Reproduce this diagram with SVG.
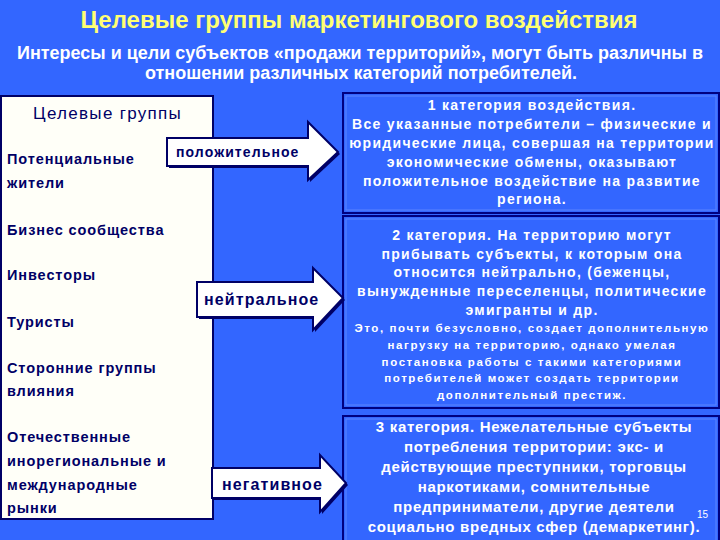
<svg xmlns="http://www.w3.org/2000/svg" width="720" height="540" viewBox="0 0 720 540">
<style>
.bg{fill:#3366ff}
.title{font-family:"Liberation Sans",Arial,sans-serif;font-size:23px;font-weight:bold;fill:#ffff73;text-anchor:middle}
.sub{font-family:"Liberation Sans",Arial,sans-serif;font-size:18px;font-weight:bold;fill:#ffffff;text-anchor:middle}
.lbox{fill:#fffff8;stroke:#000066;stroke-width:2}
.lt{font-family:"Liberation Sans",Arial,sans-serif;font-size:14.5px;font-weight:bold;fill:#000066;letter-spacing:0.9px}
.lh{font-family:"Liberation Sans",Arial,sans-serif;font-size:17px;fill:#000066;letter-spacing:1.3px}
.rbox{fill:#3366ff;stroke:#000080;stroke-width:2}
.rin{fill:none;stroke:#5c85ff;stroke-width:1}
.rt{font-family:"Liberation Sans",Arial,sans-serif;font-size:14px;font-weight:bold;fill:#ffffff;text-anchor:middle;letter-spacing:1.3px}
.rs{font-family:"Liberation Sans",Arial,sans-serif;font-size:11.5px;font-weight:bold;fill:#ffffff;text-anchor:middle;letter-spacing:1.6px}
.r3{font-family:"Liberation Sans",Arial,sans-serif;font-size:15px;font-weight:bold;fill:#ffffff;text-anchor:middle;letter-spacing:0.7px}
.arr{fill:#ffffff;stroke:#000066;stroke-width:2;stroke-linejoin:miter}
.sh{fill:#000066}
.at{font-family:"Liberation Sans",Arial,sans-serif;font-weight:bold;fill:#000066;letter-spacing:1.1px}
</style>
<rect class="bg" x="0" y="0" width="720" height="540"/>
<text class="title" x="359" y="28" textLength="557" lengthAdjust="spacingAndGlyphs">Целевые группы маркетингового воздействия</text>
<text class="sub" x="360" y="59" textLength="686" lengthAdjust="spacingAndGlyphs">Интересы и цели субъектов «продажи территорий», могут быть различны в</text>
<text class="sub" x="361" y="79" textLength="432" lengthAdjust="spacingAndGlyphs">отношении различных категорий потребителей.</text>

<g id="target-groups">
<rect class="lbox" x="1" y="96" width="212" height="423"/>
<text class="lh" x="33" y="119">Целевые группы</text>
<text class="lt" x="7" y="164">Потенциальные</text>
<text class="lt" x="7" y="188">жители</text>
<text class="lt" x="7" y="235">Бизнес сообщества</text>
<text class="lt" x="7" y="280">Инвесторы</text>
<text class="lt" x="7" y="327">Туристы</text>
<text class="lt" x="7" y="373">Сторонние группы</text>
<text class="lt" x="7" y="396">влияния</text>
<text class="lt" x="7" y="442">Отечественные</text>
<text class="lt" x="7" y="466">инорегиональные и</text>
<text class="lt" x="7" y="490">международные</text>
<text class="lt" x="7" y="513">рынки</text>
</g>

<g id="category1">
<rect class="rbox" x="343" y="93" width="376" height="120"/>
<rect class="rin" x="346" y="96" width="370" height="114"/>
<text class="rt" x="532" y="110">1 категория воздействия.</text>
<text class="rt" x="532" y="129">Все указанные  потребители – физические и</text>
<text class="rt" x="532" y="148">юридические лица, совершая на территории</text>
<text class="rt" x="532" y="167">экономические обмены, оказывают</text>
<text class="rt" x="532" y="186">положительное воздействие на развитие</text>
<text class="rt" x="532" y="204">региона.</text>
</g>

<g id="category2">
<rect class="rbox" x="343" y="216" width="376" height="192"/>
<rect class="rin" x="346" y="219" width="370" height="186"/>
<text class="rt" x="532" y="240">2 категория. На территорию могут</text>
<text class="rt" x="532" y="259">прибывать субъекты, к которым она</text>
<text class="rt" x="532" y="277">относится нейтрально, (беженцы,</text>
<text class="rt" x="532" y="296">вынужденные переселенцы, политические</text>
<text class="rt" x="532" y="315">эмигранты и др.</text>
<text class="rs" x="532" y="332">Это, почти безусловно, создает дополнительную</text>
<text class="rs" x="532" y="349">нагрузку на территорию, однако умелая</text>
<text class="rs" x="532" y="366">постановка работы с такими категориями</text>
<text class="rs" x="532" y="382">потребителей может создать территории</text>
<text class="rs" x="532" y="399">дополнительный престиж.</text>
</g>

<g id="category3">
<rect class="rbox" x="343" y="416" width="376" height="126"/>
<rect class="rin" x="346" y="419" width="370" height="122"/>
<text class="r3" x="534" y="432">3 категория. Нежелательные субъекты</text>
<text class="r3" x="534" y="452">потребления территории: экс- и</text>
<text class="r3" x="534" y="472">действующие преступники, торговцы</text>
<text class="r3" x="534" y="492">наркотиками, сомнительные</text>
<text class="r3" x="534" y="512">предприниматели, другие деятели</text>
<text class="r3" x="534" y="532">социально вредных сфер  (демаркетинг).</text>
<text x="697" y="518" style="font-family:'Liberation Sans',Arial,sans-serif;font-size:10px;fill:#ffffff">15</text>
</g>

<g id="connectors">
<g id="arrow-positive">
<polygon class="sh" points="169,140 310,140 310,124 340,154 310,182 310,168 169,168"/>
<polygon class="arr" points="167,138 308,138 308,122 338,152 308,180 308,166 167,166"/>
<text class="at" x="176" y="157" style="font-size:14px">положительное</text>
</g>
<g id="arrow-neutral">
<polygon class="sh" points="199,284 315,284 315,270 345,300 315,332 315,319 199,319"/>
<polygon class="arr" points="197,282 313,282 313,268 343,298 313,330 313,317 197,317"/>
<text class="at" x="204" y="305" style="font-size:16px">нейтральное</text>
</g>
<g id="arrow-negative">
<polygon class="sh" points="213,470 322,470 322,457 348,485 322,514 322,500 213,500"/>
<polygon class="arr" points="212,468 320,468 320,455 346,483 320,512 320,498 212,498"/>
<text class="at" x="222" y="490" style="font-size:16px">негативное</text>
</g>
</g>
</svg>
